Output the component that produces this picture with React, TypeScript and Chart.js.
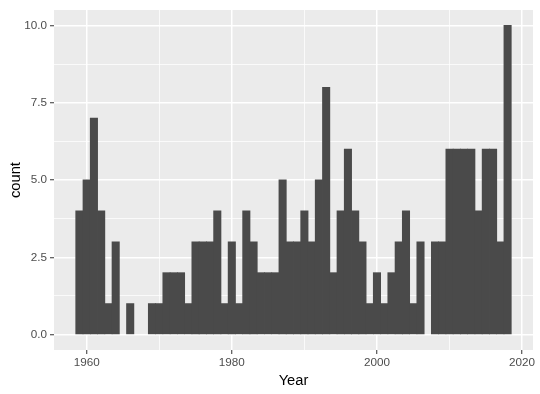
import React, { useEffect, useRef } from "react";
import { Chart, registerables } from "chart.js";

Chart.register(...registerables);

const years = [
  1959, 1960, 1961, 1962, 1963, 1964, 1965, 1966, 1967, 1968,
  1969, 1970, 1971, 1972, 1973, 1974, 1975, 1976, 1977, 1978,
  1979, 1980, 1981, 1982, 1983, 1984, 1985, 1986, 1987, 1988,
  1989, 1990, 1991, 1992, 1993, 1994, 1995, 1996, 1997, 1998,
  1999, 2000, 2001, 2002, 2003, 2004, 2005, 2006, 2007, 2008,
  2009, 2010, 2011, 2012, 2013, 2014, 2015, 2016, 2017, 2018,
];
const counts = [
  4, 5, 7, 4, 1, 3, 0, 1, 0, 0,
  1, 1, 2, 2, 2, 1, 3, 3, 3, 4,
  1, 3, 1, 4, 3, 2, 2, 2, 5, 3,
  3, 4, 3, 5, 8, 2, 4, 6, 4, 3,
  1, 2, 1, 2, 3, 4, 1, 3, 0, 3,
  3, 6, 6, 6, 6, 4, 6, 6, 3, 10,
];
const xMajorTicks = [1960, 1980, 2000, 2020];
const xMinorTicks = [1970, 1990, 2010];
const yMajorTicks = [0, 2.5, 5, 7.5, 10];
const yMinorTicks = [1.25, 3.75, 6.25, 8.75];
const yTickLabels = ["0.0", "2.5", "5.0", "7.5", "10.0"];
const xTitle = "Year";
const yTitle = "count";

const FONT = "'Liberation Sans', Arial, Helvetica, sans-serif";

const panelBg = {
  id: "panelBg",
  beforeDraw(chart: any) {
    const { ctx, chartArea } = chart;
    ctx.save();
    ctx.fillStyle = "#EBEBEB";
    ctx.fillRect(chartArea.left, chartArea.top, chartArea.right - chartArea.left, chartArea.bottom - chartArea.top);
    ctx.restore();
  },
};

export default function App() {
  const ref = useRef<HTMLCanvasElement | null>(null);
  useEffect(() => {
    if (!ref.current) return;
    const isMajorX = (v: number) => xMajorTicks.includes(v);
    const isMajorY = (v: number) => yMajorTicks.includes(v);
    const chart = new Chart(ref.current, {
      type: "bar",
      data: {
        datasets: [
          {
            data: years.map((y, i) => ({ x: y, y: counts[i] })),
            backgroundColor: (c: any) => (c.raw && c.raw.y > 0 ? "#4A4A4A" : "rgba(0,0,0,0)"),
            borderWidth: 0,
            barPercentage: 1,
            categoryPercentage: 1,
            inflateAmount: (c: any) => (c.raw && c.raw.y > 0 ? 0.4 : 0),
          } as any,
        ],
      },
      options: {
        responsive: false,
        animation: false,
        layout: { padding: { top: 7, right: 7, left: 0, bottom: 0 } },
        plugins: { legend: { display: false }, tooltip: { enabled: false } },
        scales: {
          x: {
            type: "linear",
            min: 1955.5,
            max: 2021.5,
            offset: false,
            afterBuildTicks: (scale: any) => {
              scale.ticks = [...xMajorTicks, ...xMinorTicks]
                .sort((a, b) => a - b)
                .map((v) => ({ value: v }));
            },
            afterFit: (scale: any) => {
              scale.height = 44;
            },
            grid: {
              offset: false,
              color: "#FFFFFF",
              lineWidth: (c: any) => (isMajorX(c.tick?.value) ? 1.5 : 0.75),
              drawTicks: true,
              tickLength: 4,
              tickColor: (c: any) => (isMajorX(c.tick?.value) ? "#333333" : "rgba(0,0,0,0)"),
              tickWidth: 1,
            },
            border: { display: false },
            ticks: {
              autoSkip: false,
              maxRotation: 0,
              padding: 2,
              color: "#4D4D4D",
              font: { family: FONT, size: 11.7 },
              callback: (v: any) => (isMajorX(Number(v)) ? String(v) : ""),
            },
            title: {
              display: true,
              text: xTitle,
              color: "#000000",
              font: { family: FONT, size: 14.7 },
              padding: { top: 0, bottom: 4 },
            },
          },
          y: {
            type: "linear",
            min: -0.5,
            max: 10.5,
            afterBuildTicks: (scale: any) => {
              scale.ticks = [...yMajorTicks, ...yMinorTicks]
                .sort((a, b) => a - b)
                .map((v) => ({ value: v }));
            },
            afterFit: (scale: any) => {
              scale.width = 54;
            },
            grid: {
              color: "#FFFFFF",
              lineWidth: (c: any) => (isMajorY(c.tick?.value) ? 1.5 : 0.75),
              drawTicks: true,
              tickLength: 4,
              tickColor: (c: any) => (isMajorY(c.tick?.value) ? "#333333" : "rgba(0,0,0,0)"),
              tickWidth: 1,
            },
            border: { display: false },
            ticks: {
              autoSkip: false,
              padding: 3,
              color: "#4D4D4D",
              font: { family: FONT, size: 11.7 },
              callback: (v: any) => {
                const i = yMajorTicks.indexOf(Number(v));
                return i >= 0 ? yTickLabels[i] : "";
              },
            },
            title: {
              display: true,
              text: yTitle,
              color: "#000000",
              font: { family: FONT, size: 14.7 },
              padding: { top: 7, bottom: 0 },
            },
          },
        },
      } as any,
      plugins: [panelBg],
    });
    return () => chart.destroy();
  }, []);
  return (
    <div style={{ position: "absolute", left: 0, top: 0, width: 540, height: 394, background: "#fff" }}>
      <canvas ref={ref} width={540} height={394} />
    </div>
  );
}
